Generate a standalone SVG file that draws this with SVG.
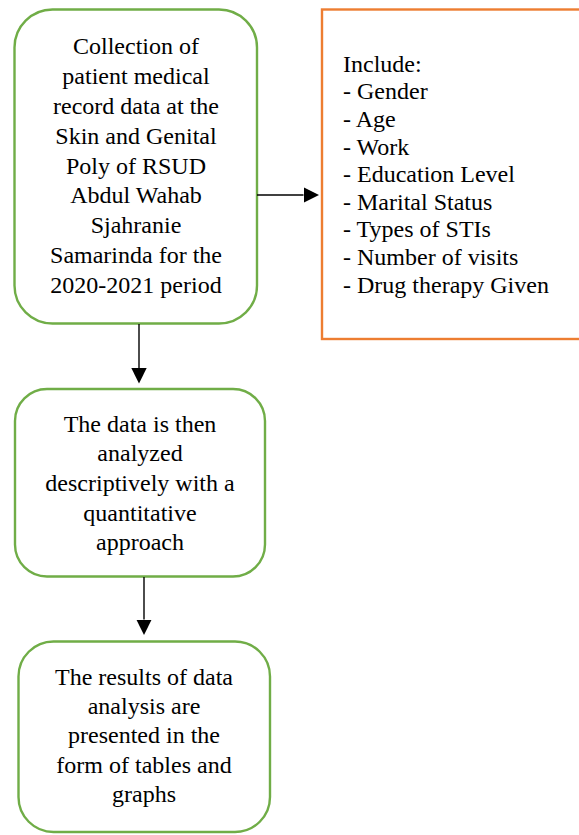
<svg xmlns="http://www.w3.org/2000/svg" width="579" height="835" viewBox="0 0 579 835">
  <style>
    .green { fill: #ffffff; stroke: #70AD47; stroke-width: 2.4; }
    .orange { fill: #ffffff; stroke: #ED7D31; stroke-width: 2.4; }
    .t { font-family: "Liberation Serif", "Times New Roman", serif; font-size: 24px; fill: #000000; }
    .c { text-anchor: middle; }
    .conn { stroke: #000000; stroke-width: 1.4; fill: none; }
  </style>
  <defs>
    <marker id="arrow" markerUnits="userSpaceOnUse" markerWidth="16" markerHeight="16" refX="0" refY="7.7" orient="auto">
      <path d="M0,0 L15.5,7.7 L0,15.4 z" fill="#000000"/>
    </marker>
  </defs>
  <rect width="579" height="835" fill="#ffffff"/>

  <g id="node-collection">
    <rect class="green" x="14.5" y="9.5" width="242.5" height="314" rx="38" ry="38"/>
    <text class="t c" x="136" y="54.3">Collection of</text>
    <text class="t c" x="136" y="84.1">patient medical</text>
    <text class="t c" x="136" y="113.9">record data at the</text>
    <text class="t c" x="136" y="143.7">Skin and Genital</text>
    <text class="t c" x="136" y="173.5">Poly of RSUD</text>
    <text class="t c" x="136" y="203.3">Abdul Wahab</text>
    <text class="t c" x="136" y="233.1">Sjahranie</text>
    <text class="t c" x="136" y="262.9">Samarinda for the</text>
    <text class="t c" x="136" y="292.7">2020-2021 period</text>
  </g>

  <g id="node-include">
    <rect class="orange" x="322" y="9.5" width="270" height="329.5"/>
    <text class="t" x="343" y="71.7">Include:</text>
    <text class="t" x="343" y="99.3">- Gender</text>
    <text class="t" x="343" y="126.9">- Age</text>
    <text class="t" x="343" y="154.5">- Work</text>
    <text class="t" x="343" y="182.1">- Education Level</text>
    <text class="t" x="343" y="209.7">- Marital Status</text>
    <text class="t" x="343" y="237.3">- Types of STIs</text>
    <text class="t" x="343" y="264.9">- Number of visits</text>
    <text class="t" x="343" y="292.5">- Drug therapy Given</text>
  </g>

  <g id="node-analysis">
    <rect class="green" x="15" y="389" width="250" height="187.5" rx="32" ry="32"/>
    <text class="t c" x="140" y="431.7">The data is then</text>
    <text class="t c" x="140" y="461.3">analyzed</text>
    <text class="t c" x="140" y="490.9">descriptively with a</text>
    <text class="t c" x="140" y="520.5">quantitative</text>
    <text class="t c" x="140" y="550.1">approach</text>
  </g>

  <g id="node-results">
    <rect class="green" x="18.5" y="641.5" width="251.5" height="190.5" rx="35" ry="35"/>
    <text class="t c" x="144" y="685">The results of data</text>
    <text class="t c" x="144" y="714.2">analysis are</text>
    <text class="t c" x="144" y="743.4">presented in the</text>
    <text class="t c" x="144" y="772.6">form of tables and</text>
    <text class="t c" x="144" y="801.8">graphs</text>
  </g>

  <g id="connectors">
    <path class="conn" d="M257,195 L303.5,195" marker-end="url(#arrow)"/>
    <path class="conn" d="M139,324 L139,368" marker-end="url(#arrow)"/>
    <path class="conn" d="M144,577 L144,619.5" marker-end="url(#arrow)"/>
  </g>
</svg>
